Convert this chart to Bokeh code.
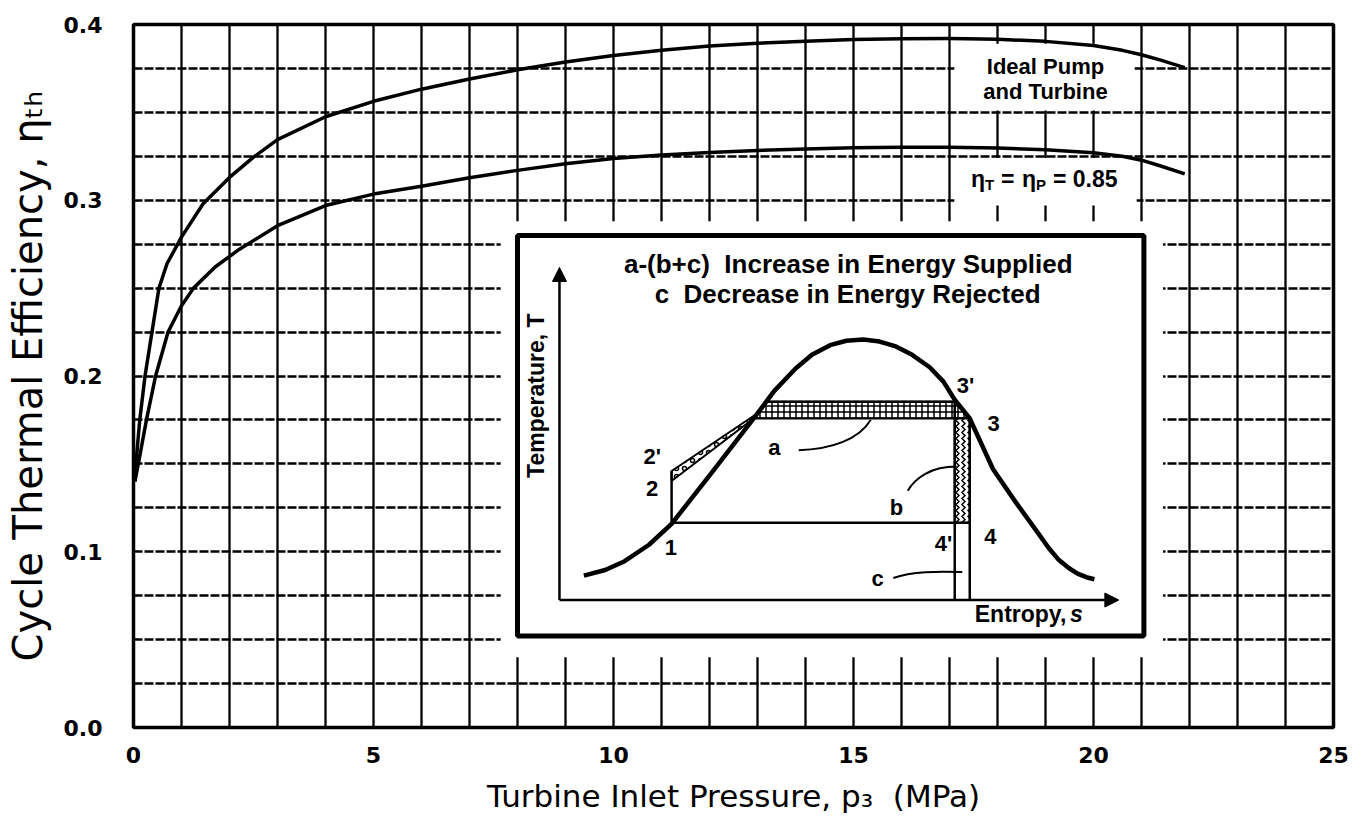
import math
from bokeh.plotting import figure
from bokeh.models import Range1d, FixedTicker, PrintfTickFormatter, Arrow, NormalHead
from bokeh.core.properties import value
from bokeh.embed import file_html
from bokeh.resources import INLINE

# ---------------- data ----------------
pressure_ideal = [0.03, 0.05, 0.13, 0.24, 0.385, 0.53, 0.7, 1.0, 1.45, 2.0, 2.5, 3.0, 4.0, 5.0, 6.0,
                  7.0, 8.0, 9.0, 10.0, 11.0, 12.0, 13.0, 14.0, 15.0, 16.0, 17.0, 18.0, 19.0, 20.0,
                  20.6, 21.0, 21.4, 21.9]
eff_ideal = [0.140, 0.150, 0.175, 0.200, 0.225, 0.250, 0.264, 0.279, 0.298, 0.313, 0.3245, 0.3345,
             0.3475, 0.3563, 0.3632, 0.3690, 0.3742, 0.3787, 0.3824, 0.3854, 0.3877, 0.3893, 0.3905,
             0.3914, 0.3919, 0.3920, 0.3916, 0.3904, 0.3880, 0.3853, 0.3828, 0.3797, 0.3755]

pressure_085 = [0.03, 0.1, 0.27, 0.46, 0.72, 1.0, 1.25, 1.7, 2.2, 3.0, 4.0, 5.0, 6.0, 7.0, 8.0, 9.0,
                10.0, 11.0, 12.0, 13.0, 14.0, 15.0, 16.0, 17.0, 18.0, 19.0, 20.0, 20.6, 21.0, 21.4, 21.9]
eff_085 = [0.140, 0.150, 0.175, 0.200, 0.225, 0.240, 0.250, 0.262, 0.272, 0.2855, 0.297, 0.3035,
           0.308, 0.3128, 0.317, 0.3208, 0.3238, 0.3258, 0.3272, 0.3283, 0.3292, 0.3299, 0.3302,
           0.3302, 0.3297, 0.3287, 0.3270, 0.3250, 0.3228, 0.3195, 0.315]

x_ticks = [0, 5, 10, 15, 20, 25]
y_ticks = [0.0, 0.1, 0.2, 0.3, 0.4]

# inset T-s schematic (arbitrary units, box = 0..10 x 0..10)
dome_s = [1.06, 1.40, 1.71, 2.10, 2.46, 3.07, 3.78, 4.10, 4.44, 4.70, 4.99, 5.25, 5.52, 5.78, 6.04,
          6.30, 6.58, 6.80, 6.98, 7.22, 7.59, 7.95, 8.32, 8.48, 8.63, 8.80, 8.94, 9.08, 9.21]
dome_T = [1.51, 1.65, 1.87, 2.28, 2.80, 4.02, 5.45, 6.12, 6.68, 7.02, 7.26, 7.37, 7.40, 7.35, 7.23,
          7.02, 6.71, 6.35, 5.90, 5.43, 4.17, 3.35, 2.55, 2.20, 1.92, 1.70, 1.56, 1.47, 1.42]

state_names = ["1", "2", "2'", "3", "3'", "4", "4'"]
state_s = [2.46, 2.46, 2.46, 7.22, 6.98, 7.22, 6.98]
state_T = [2.83, 3.87, 4.12, 5.43, 5.85, 2.83, 2.83]
satliq_s = [3.77, 3.99]      # saturated liquid at lower / higher pressure
satliq_T = [5.43, 5.85]
axis_T0 = 0.9                # level of the entropy axis inside the inset
axis_s0 = 0.67

# ---------------- layout constants ----------------
W, H = 1355, 816
INSET_P = (8.0, 21.05)       # inset box in main-axis units
INSET_E = (0.052, 0.280)

p = figure(width=W, height=H, x_range=Range1d(0, 25), y_range=Range1d(0, 0.4),
           output_backend="svg", toolbar_location=None,
           min_border_left=133, min_border_right=22, min_border_top=24, min_border_bottom=88,
           background_fill_color="white", border_fill_color="white")

p.outline_line_color = "black"
p.outline_line_width = 3.5

# grid
p.xgrid.ticker = FixedTicker(ticks=list(range(0, 26)))
p.ygrid.ticker = FixedTicker(ticks=[i * 0.025 for i in range(17)])
p.xgrid.grid_line_color = "black"
p.xgrid.grid_line_width = 2.3
p.ygrid.grid_line_color = "black"
p.ygrid.grid_line_width = 2.5
p.ygrid.grid_line_dash = "9 2"

# axes
for ax in (p.xaxis[0], p.yaxis[0]):
    ax.axis_line_color = None
    ax.major_tick_line_color = None
    ax.minor_tick_line_color = None
    ax.major_label_text_font = "DejaVu Sans"
    ax.major_label_text_font_style = "bold"
    ax.major_label_text_font_size = "22px"
    ax.major_label_text_color = "black"
    ax.axis_label_text_font = "DejaVu Sans"
    ax.axis_label_text_font_style = "normal"
    ax.axis_label_text_color = "black"

p.xaxis.ticker = FixedTicker(ticks=x_ticks)
p.yaxis.ticker = FixedTicker(ticks=y_ticks)
p.yaxis.formatter = PrintfTickFormatter(format="%.1f")
p.xaxis.major_label_standoff = 13
p.yaxis.major_label_standoff = 25
p.xaxis.axis_label = "Turbine Inlet Pressure, p\u2083\u00a0\u00a0(MPa)"
p.xaxis.axis_label_text_font_size = "31px"
p.xaxis.axis_label_standoff = 12
p.yaxis.axis_label = "Cycle Thermal Efficiency, \u03b7\u209c\u2095"
p.yaxis.axis_label_text_font_size = "40px"
p.yaxis.axis_label_standoff = 10

# white masks where the grid is interrupted
p.quad(left=[INSET_P[0] - 0.35, 17.1, 17.1], right=[INSET_P[1] + 0.4, 20.85, 20.9],
       bottom=[INSET_E[0] - 0.012, 0.351, 0.297], top=[INSET_E[1] + 0.008, 0.389, 0.324],
       fill_color="white", line_color=None)

# main curves
p.line(pressure_ideal, eff_ideal, line_color="black", line_width=3.5, line_join="round")
p.line(pressure_085, eff_085, line_color="black", line_width=3.5, line_join="round")

F = value("Liberation Sans")
p.text(x=[19.0, 19.0], y=[0.376, 0.3617], text=["Ideal Pump", "and Turbine"],
       text_font=F, text_font_style="bold", text_font_size="22px",
       text_align="center", text_baseline="middle", text_color="black")

# eta_T = eta_P = 0.85 built from pieces
eta_x, eta_y = 19.03, 0.3123
pieces = [("\u03b7", "23px", -76, 0), ("T", "15px", -62, 6), ("=", "23px", -46, 0),
          ("\u03b7", "23px", -25, 0), ("P", "15px", -11, 6), ("= 0.85", "23px", 6, 0)]
for txt, fs, xo, yo in pieces:
    p.text(x=[eta_x], y=[eta_y], text=[txt], x_offset=xo, y_offset=yo,
           text_font=F, text_font_style="bold", text_font_size=fs,
           text_align="left", text_baseline="middle", text_color="black")

# ---------------- inset (own ranges) ----------------
ps, pe = INSET_P
es, ee = INSET_E
p.extra_x_ranges = {"s": Range1d(start=(0 - ps) / (pe - ps) * 10, end=(25 - ps) / (pe - ps) * 10)}
p.extra_y_ranges = {"T": Range1d(start=(0 - es) / (ee - es) * 10, end=(0.4 - es) / (ee - es) * 10)}
R = dict(x_range_name="s", y_range_name="T")

p.quad(left=[0], right=[10], bottom=[0], top=[10], fill_color=None, line_color="black",
       line_width=5, **R)

S = dict(zip(state_names, zip(state_s, state_T)))

# a : band between the two boiling lines
p.patch([satliq_s[0], satliq_s[1], S["3'"][0], S["3"][0]],
        [satliq_T[0], satliq_T[1], S["3'"][1], S["3"][1]],
        fill_color="white", line_color="black", line_width=2,
        hatch_pattern="cross", hatch_scale=6, hatch_weight=1.5, hatch_color="black", **R)
# extra heating between 2 and 2'
p.patch([S["2"][0], S["2'"][0], 3.85, satliq_s[0]],
        [S["2"][1], S["2'"][1], 5.58, satliq_T[0]],
        fill_color="white", line_color="black", line_width=2,
        hatch_pattern="ring", hatch_scale=8, hatch_weight=1.5, hatch_color="black", **R)
# b : strip between 4' and 4 above condenser line
p.patch([S["4'"][0], S["4'"][0], S["3"][0], S["3"][0]],
        [S["4'"][1], satliq_T[0], satliq_T[0], S["4"][1]],
        fill_color="white", line_color="black", line_width=2,
        hatch_pattern="vertical_wave", hatch_scale=6, hatch_weight=1.5, hatch_color="black", **R)

# cycle lines
seg_x0 = [S["1"][0], S["1"][0], S["4'"][0], S["4"][0], satliq_s[1]]
seg_y0 = [S["1"][1], S["1"][1], axis_T0, axis_T0, satliq_T[1]]
seg_x1 = [S["2'"][0], S["4"][0], S["3'"][0], S["3"][0], S["3'"][0]]
seg_y1 = [S["2'"][1], S["4"][1], S["3'"][1], S["3"][1], S["3'"][1]]
p.segment(seg_x0, seg_y0, seg_x1, seg_y1, line_color="black", line_width=2.5, **R)

# saturation dome
p.line(dome_s, dome_T, line_color="black", line_width=4.5, line_join="round", **R)

# axes of the inset
p.add_layout(Arrow(end=NormalHead(size=14, fill_color="black", line_color="black"),
                   x_start=axis_s0, y_start=axis_T0, x_end=axis_s0, y_end=9.2,
                   line_width=2.5, line_color="black", **R))
p.add_layout(Arrow(end=NormalHead(size=14, fill_color="black", line_color="black"),
                   x_start=axis_s0, y_start=axis_T0, x_end=9.6, y_end=axis_T0,
                   line_width=2.5, line_color="black", **R))

# leader curves
p.bezier(x0=[4.49, 6.23, 6.0], y0=[4.64, 3.63, 1.45], x1=[5.64, 7.01, 7.1], y1=[5.40, 4.23, 1.60],
         cx0=[5.0, 6.35, 6.3], cy0=[4.66, 3.95, 1.62], cx1=[5.45, 6.6, 6.7], cy1=[4.9, 4.23, 1.62],
         line_color="black", line_width=2, **R)

# inset labels
lab_text = ["3'", "3", "2'", "2", "1", "a", "b", "4'", "4", "c"]
lab_s = [7.15, 7.6, 2.15, 2.15, 2.45, 4.1, 6.05, 6.8, 7.55, 5.75]
lab_T = [6.26, 5.3, 4.48, 3.68, 2.22, 4.7, 3.22, 2.3, 2.48, 1.44]
p.text(x=lab_s, y=lab_T, text=lab_text, text_font=F, text_font_style="bold",
       text_font_size="22px", text_align="center", text_baseline="middle",
       text_color="black", **R)

p.text(x=[5.28, 5.27], y=[9.28, 8.53],
       text=["a-(b+c)\u00a0\u00a0Increase in Energy Supplied", "c\u00a0\u00a0Decrease in Energy Rejected"],
       text_font=F, text_font_style="bold", text_font_size="26px",
       text_align="center", text_baseline="middle", text_color="black", **R)

p.text(x=[0.3], y=[6.0], text=["Temperature, T"], angle=math.pi / 2,
       text_font=F, text_font_style="bold", text_font_size="23px",
       text_align="center", text_baseline="middle", text_color="black", **R)
p.text(x=[7.3], y=[0.56], text=["Entropy,"], text_font=F, text_font_style="bold",
       text_font_size="23px", text_align="left", text_baseline="middle",
       text_color="black", **R)
p.text(x=[8.82], y=[0.56], text=["s"], text_font=F, text_font_style="bold italic",
       text_font_size="23px", text_align="left", text_baseline="middle",
       text_color="black", **R)

open("out.html", "w").write(file_html(p, INLINE))
